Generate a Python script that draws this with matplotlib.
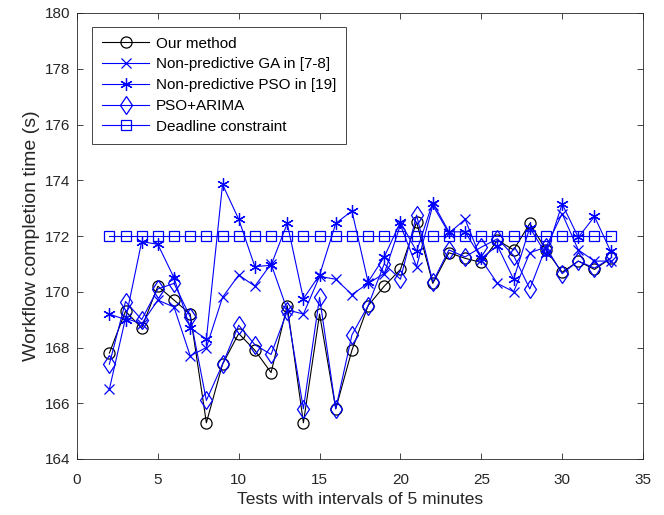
import matplotlib
matplotlib.use("Agg")
import matplotlib.pyplot as plt

plt.rcParams['font.family'] = ['Liberation Sans', 'DejaVu Sans']

tests = list(range(2, 34))

our_method = [167.8, 169.3, 168.7, 170.2, 169.7, 169.2, 165.3, 167.4, 168.5, 167.9,
              167.1, 169.5, 165.3, 169.2, 165.8, 167.9, 169.5, 170.2, 170.8, 172.5,
              170.3, 171.4, 171.2, 171.05, 171.85, 171.5, 172.45, 171.5, 170.7, 171.1,
              170.8, 171.2]
ga = [166.5, 169.05, 168.85, 169.7, 169.45, 167.7, 168.0, 169.8, 170.6, 170.2,
      171.0, 169.35, 169.2, 170.55, 170.45, 169.9, 170.3, 170.65, 172.4, 170.9,
      173.1, 172.1, 172.6, 171.15, 170.3, 170.0, 171.4, 171.6, 172.8, 171.5,
      171.1, 171.1]
pso = [169.2, 169.0, 171.8, 171.7, 170.5, 168.7, 168.3, 173.85, 172.6, 170.9,
       170.95, 172.45, 169.75, 170.6, 172.45, 172.9, 170.35, 171.25, 172.5, 171.45,
       173.2, 172.15, 172.15, 171.2, 171.65, 170.45, 172.3, 171.35, 173.15, 171.95,
       172.7, 171.45]
pso_arima = [167.4, 169.65, 169.0, 170.1, 170.3, 169.1, 166.1, 167.4, 168.8, 168.1,
             167.75, 169.3, 165.8, 169.8, 165.8, 168.45, 169.5, 171.0, 170.45, 172.75,
             170.35, 171.5, 171.25, 171.6, 171.9, 171.3, 170.1, 171.6, 170.65, 171.1,
             170.85, 171.2]
deadline = [172.0] * len(tests)

labels = ["Our method", "Non-predictive GA in [7-8]", "Non-predictive PSO in [19]",
          "PSO+ARIMA", "Deadline constraint"]
xticks = [0, 5, 10, 15, 20, 25, 30, 35]
yticks = [164, 166, 168, 170, 172, 174, 176, 178, 180]

fig = plt.figure(figsize=(6.64, 5.15), dpi=100)
ax = fig.add_axes([77/664, 56/515, 566/664, 446/515])

lw = 0.8
ax.plot(tests, our_method, color='black', marker='o', markersize=8,
        markerfacecolor='none', markeredgewidth=0.9, linewidth=lw, label=labels[0])
ax.plot(tests, ga, color='blue', marker='x', markersize=7, markeredgewidth=0.9,
        linewidth=lw, label=labels[1])
ax.plot(tests, pso, color='blue', marker=(6, 2, 0), markersize=9, markeredgewidth=0.9,
        linewidth=lw, label=labels[2])
ax.plot(tests, pso_arima, color='blue', marker='d', markersize=9.5,
        markerfacecolor='none', markeredgewidth=0.9, linewidth=lw, label=labels[3])
ax.plot(tests, deadline, color='blue', marker='s', markersize=6.5,
        markerfacecolor='none', markeredgewidth=0.9, linewidth=lw, label=labels[4])

ax.set_xlim(0, 35)
ax.set_ylim(164, 180)
ax.set_xticks(xticks)
ax.set_yticks(yticks)

grey = '#262626'
for s in ax.spines.values():
    s.set_color(grey)
    s.set_linewidth(0.6)
ax.tick_params(direction='in', top=True, right=True, length=4, width=0.6,
               colors=grey, labelsize=11)
ax.tick_params(axis='x', pad=10)
ax.tick_params(axis='y', pad=5)

ax.set_xlabel("Tests with intervals of 5 minutes", fontsize=12.5, color=grey, labelpad=4)
ax.set_ylabel("Workflow completion time (s)", fontsize=14, color=grey, labelpad=3)

leg = ax.legend(loc='upper left', bbox_to_anchor=(0.0265, 0.969), borderaxespad=0,
                fancybox=False, framealpha=1, edgecolor=grey, fontsize=11,
                handlelength=3.1, handletextpad=0.45, labelspacing=0.44,
                borderpad=0.65)
leg.get_frame().set_linewidth(0.6)
for t in leg.get_texts():
    t.set_color('black')

fig.savefig("out.png", dpi=100)
